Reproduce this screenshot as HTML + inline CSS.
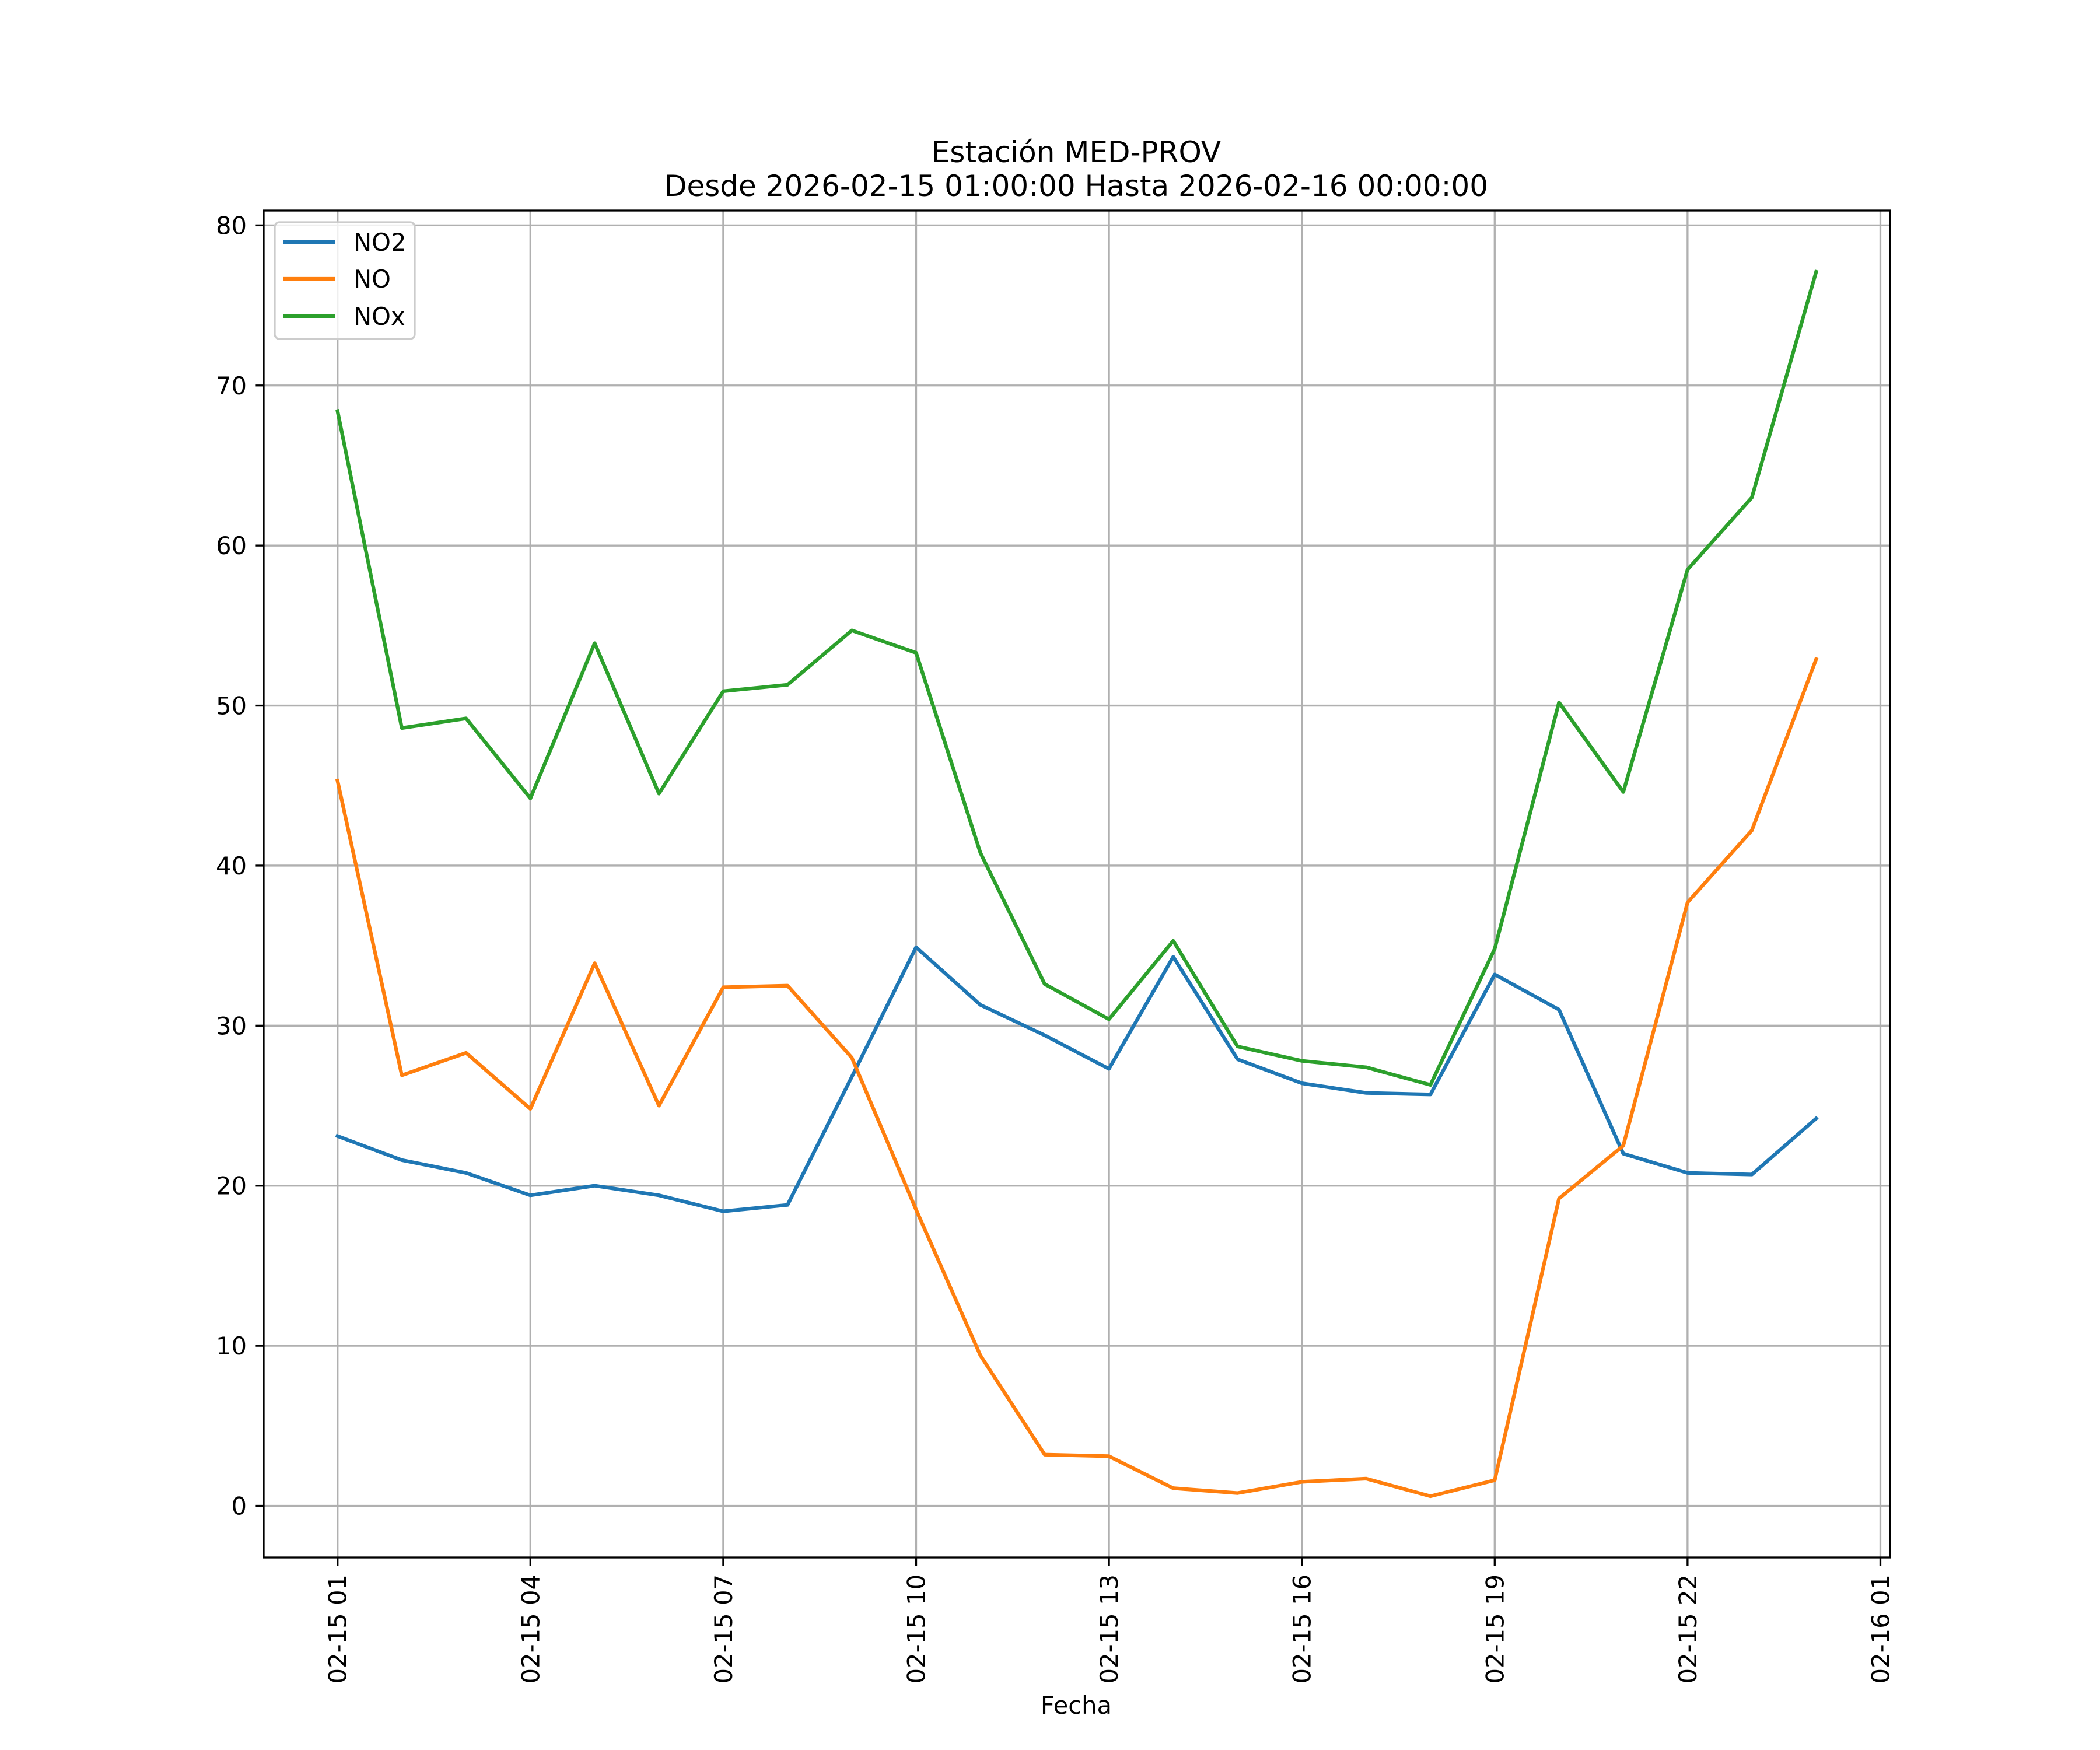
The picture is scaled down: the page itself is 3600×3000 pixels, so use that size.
<!DOCTYPE html>
<html><head><meta charset="utf-8"><style>
html,body{margin:0;padding:0;background:#fff;}
svg{display:block;font-family:"DejaVu Sans","Liberation Sans",sans-serif;}
</style></head><body>
<svg id="chart" width="3600" height="3000" viewBox="0 0 3600 3000">
<rect width="3600" height="3000" fill="#fff"/>
<g id="grid"></g><g id="series"></g><g id="axes"></g>
<text x="1845" y="278" font-size="50" text-anchor="middle">Estación MED-PROV</text>
<text x="1845" y="336" font-size="50" text-anchor="middle">Desde 2026-02-15 01:00:00 Hasta 2026-02-16 00:00:00</text>
<text x="1845" y="2938" font-size="41.7" text-anchor="middle">Fecha</text>
<g>
<rect x="471" y="381" width="240" height="200" rx="8" fill="#fff" fill-opacity="0.8" stroke="#cccccc" stroke-width="3.3"/>
<line x1="485" y1="415" x2="574" y2="415" stroke="#1f77b4" stroke-width="6.25"/>
<text x="606" y="430" font-size="41.7">NO2</text>
<line x1="485" y1="478" x2="574" y2="478" stroke="#ff7f0e" stroke-width="6.25"/>
<text x="606" y="493" font-size="41.7">NO</text>
<line x1="485" y1="542" x2="574" y2="542" stroke="#2ca02c" stroke-width="6.25"/>
<text x="606" y="557" font-size="41.7">NOx</text>
</g>
</svg>
<script>
const hours = [1,2,3,4,5,6,7,8,9,10,11,12,13,14,15,16,17,18,19,20,21,22,23,24];
const no2 = [23.1,21.6,20.8,19.4,20.0,19.4,18.4,18.8,26.8,34.9,31.3,29.4,27.3,34.3,27.9,26.4,25.8,25.7,33.2,31.0,22.0,20.8,20.7,24.2];
const no = [45.3,26.9,28.3,24.8,33.9,25.0,32.4,32.5,28.0,18.5,9.4,3.2,3.1,1.1,0.8,1.5,1.7,0.6,1.6,19.2,22.5,37.7,42.2,52.9];
const nox = [68.4,48.6,49.2,44.2,53.9,44.5,50.9,51.3,54.7,53.3,40.8,32.6,30.4,35.3,28.7,27.8,27.4,26.3,34.8,50.2,44.6,58.5,63.0,77.1];
const xTicks = [1,4,7,10,13,16,19,22,25];
const xTickLabels = ["02-15 01","02-15 04","02-15 07","02-15 10","02-15 13","02-15 16","02-15 19","02-15 22","02-16 01"];
const yTicks = [0,10,20,30,40,50,60,70,80];

const L=452,R=3240,T=361,B=2670;
const NS="http://www.w3.org/2000/svg";
const allV=no2.concat(no,nox);
const vmin=Math.min(...allV), vmax=Math.max(...allV), vr=vmax-vmin;
const y0=vmin-0.05*vr, y1=vmax+0.05*vr;
const hmin=Math.min(...hours), hmax=Math.max(...hours), hr=hmax-hmin;
const x0=hmin-0.05*hr, x1=hmax+0.05*hr;
const sx=v=>L+(v-x0)/(x1-x0)*(R-L);
const sy=v=>B-(v-y0)/(y1-y0)*(B-T);
function mk(tag,attrs,parent){const e=document.createElementNS(NS,tag);for(const k in attrs)e.setAttribute(k,attrs[k]);parent.appendChild(e);return e;}
const grid=document.getElementById('grid'),axes=document.getElementById('axes'),series=document.getElementById('series');
xTicks.forEach((t,i)=>{
  const x=sx(t);
  const g=mk('line',{x1:x,x2:x,y1:T,y2:B,stroke:'#b0b0b0','stroke-width':3.3},grid);
  
  
  const tk=mk('line',{x1:x,x2:x,y1:B,y2:B+14.6,stroke:'#000','stroke-width':3.3},axes);
  
  
  const tx=mk('text',{x:0,y:0,'font-size':41.7,'text-anchor':'end',transform:`translate(${x+15},${B+29}) rotate(-90)`},axes);
  tx.textContent=xTickLabels[i];
  
  
});
yTicks.forEach(t=>{
  const y=sy(t);
  const g=mk('line',{x1:L,x2:R,y1:y,y2:y,stroke:'#b0b0b0','stroke-width':3.3},grid);
  
  
  const tk=mk('line',{x1:L-14.6,x2:L,y1:y,y2:y,stroke:'#000','stroke-width':3.3},axes);
  
  
  const tx=mk('text',{x:L-29,y:y+15,'font-size':41.7,'text-anchor':'end'},axes);
  tx.textContent=String(t);
  
  
});
const fr=mk('rect',{x:L,y:T,width:R-L,height:B-T,fill:'none',stroke:'#000','stroke-width':3.3},axes);


[[no2,'#1f77b4','line-no2'],[no,'#ff7f0e','line-no'],[nox,'#2ca02c','line-nox']].forEach(([d,c,n])=>{
  const pts=d.map((v,i)=>sx(hours[i]).toFixed(1)+','+sy(v).toFixed(1)).join(' ');
  const p=mk('polyline',{points:pts,fill:'none',stroke:c,'stroke-width':6.25,'stroke-linejoin':'round','stroke-linecap':'square'},series);
  
  
});
</script>
</body></html>
